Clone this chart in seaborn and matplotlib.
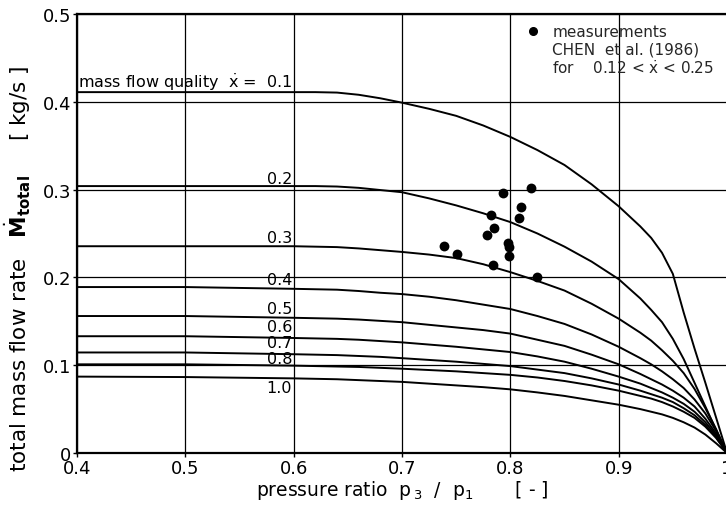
import matplotlib
matplotlib.use("Agg")
import matplotlib.pyplot as plt
import pandas as pd
import seaborn as sns

# pressure ratio p3/p1 at which each quality curve is tabulated
pressure_ratio = [0.40, 0.50, 0.60, 0.62, 0.64, 0.66, 0.68, 0.70, 0.725, 0.75,
                  0.775, 0.80, 0.825, 0.85, 0.875, 0.90, 0.92, 0.93, 0.94, 0.95,
                  0.96, 0.97, 0.98, 0.99, 1.00]

# total mass flow rate [kg/s] for each mass flow quality
flow_q01 = [0.411, 0.411, 0.411, 0.411, 0.4105, 0.408, 0.404, 0.399, 0.392, 0.384,
            0.373, 0.360, 0.345, 0.328, 0.306, 0.281, 0.258, 0.245, 0.228, 0.204,
            0.160, 0.119, 0.080, 0.040, 0.0]
flow_q02 = [0.304, 0.304, 0.304, 0.304, 0.3035, 0.302, 0.2995, 0.297, 0.290, 0.282,
            0.273, 0.263, 0.250, 0.235, 0.218, 0.198, 0.176, 0.163, 0.149, 0.130,
            0.107, 0.080, 0.053, 0.026, 0.0]
flow_q03 = [0.2355, 0.2355, 0.2355, 0.235, 0.2345, 0.233, 0.231, 0.229, 0.226, 0.222,
            0.215, 0.206, 0.196, 0.185, 0.170, 0.153, 0.137, 0.128, 0.117, 0.105,
            0.091, 0.073, 0.051, 0.027, 0.0]
flow_q04 = [0.189, 0.189, 0.187, 0.1865, 0.186, 0.1845, 0.1825, 0.181, 0.178, 0.174,
            0.169, 0.164, 0.156, 0.147, 0.135, 0.121, 0.108, 0.101, 0.093, 0.084,
            0.074, 0.061, 0.045, 0.025, 0.0]
flow_q05 = [0.156, 0.156, 0.154, 0.1535, 0.153, 0.152, 0.1505, 0.149, 0.146, 0.143,
            0.140, 0.136, 0.129, 0.122, 0.112, 0.101, 0.090, 0.084, 0.078, 0.071,
            0.063, 0.053, 0.039, 0.022, 0.0]
flow_q06 = [0.133, 0.133, 0.131, 0.1305, 0.130, 0.129, 0.1275, 0.126, 0.1235, 0.121,
            0.118, 0.115, 0.110, 0.104, 0.096, 0.087, 0.079, 0.074, 0.069, 0.063,
            0.056, 0.047, 0.035, 0.020, 0.0]
flow_q07 = [0.1145, 0.1145, 0.1125, 0.112, 0.1115, 0.1105, 0.1095, 0.108, 0.106, 0.104,
            0.1015, 0.099, 0.095, 0.091, 0.085, 0.078, 0.071, 0.067, 0.063, 0.058,
            0.051, 0.043, 0.032, 0.018, 0.0]
flow_q08 = [0.101, 0.101, 0.0995, 0.099, 0.0985, 0.098, 0.097, 0.096, 0.0945, 0.093,
            0.091, 0.089, 0.086, 0.082, 0.077, 0.071, 0.065, 0.062, 0.058, 0.053,
            0.047, 0.040, 0.030, 0.017, 0.0]
flow_q10 = [0.087, 0.0865, 0.085, 0.0845, 0.084, 0.083, 0.082, 0.081, 0.079, 0.077,
            0.075, 0.0725, 0.069, 0.065, 0.060, 0.055, 0.050, 0.047, 0.044, 0.040,
            0.035, 0.029, 0.021, 0.011, 0.0]

qualities = ["0.1", "0.2", "0.3", "0.4", "0.5", "0.6", "0.7", "0.8", "1.0"]
curves = [flow_q01, flow_q02, flow_q03, flow_q04, flow_q05,
          flow_q06, flow_q07, flow_q08, flow_q10]

# measurements, CHEN et al. (1986)
meas_ratio = [0.7385, 0.7509, 0.7782, 0.7822, 0.7843, 0.7846, 0.7935, 0.7975,
              0.7984, 0.7991, 0.8077, 0.8099, 0.8190, 0.8242]
meas_flow = [0.2355, 0.2272, 0.2481, 0.2705, 0.2138, 0.2557, 0.2965, 0.2394,
             0.2241, 0.2348, 0.2671, 0.2805, 0.3020, 0.2001]

x_ticks = [0.4, 0.5, 0.6, 0.7, 0.8, 0.9, 1.0]
x_ticklabels = ["0.4", "0.5", "0.6", "0.7", "0.8", "0.9", "1"]
y_ticks = [0.0, 0.1, 0.2, 0.3, 0.4, 0.5]
y_ticklabels = ["0", "0.1", "0.2", "0.3", "0.4", "0.5"]

rows = []
for q, vals in zip(qualities, curves):
    for p, m in zip(pressure_ratio, vals):
        rows.append({"ratio": p, "flow": m, "quality": q})
df = pd.DataFrame(rows)
meas = pd.DataFrame({"ratio": meas_ratio, "flow": meas_flow})

sns.set_theme(style="white")
plt.rcParams["font.family"] = ["DejaVu Sans"]
plt.rcParams["mathtext.fontset"] = "dejavusans"

fig = plt.figure(figsize=(7.26, 5.10), dpi=100)
ax = fig.add_axes([0.1061, 0.1098, 0.8953, 0.8608])

sns.lineplot(data=df, x="ratio", y="flow", hue="quality", units="quality",
             estimator=None, palette=["black"] * len(qualities), linewidth=1.4,
             legend=False, ax=ax, sort=True)
sns.scatterplot(data=meas, x="ratio", y="flow", color="black", s=50,
                edgecolor="black", linewidth=0, legend=False, ax=ax, zorder=5)

ax.set_xlim(0.4, 1.0)
ax.set_ylim(0.0, 0.5)
ax.set_xticks(x_ticks)
ax.set_xticklabels(x_ticklabels)
ax.set_yticks(y_ticks)
ax.set_yticklabels(y_ticklabels)
ax.grid(True, color="black", linewidth=0.9)
ax.set_axisbelow(True)
for side in ["left", "bottom", "top"]:
    ax.spines[side].set_color("black")
    ax.spines[side].set_linewidth(1.6)
ax.spines["right"].set_visible(False)
ax.tick_params(axis="both", which="major", direction="out", length=3,
               width=1.0, color="black", labelsize=13, pad=1, labelcolor="black")
ax.tick_params(axis="x", bottom=True)
ax.tick_params(axis="y", left=True)

ax.set_xlabel(r"pressure ratio  $\mathrm{p}_{\,3}$  /  $\mathrm{p}_{1}$       [ - ]",
              fontsize=13.5, color="black", labelpad=1)
ax.set_ylabel(r"total mass flow rate   $\dot{\mathbf{M}}_{\mathbf{total}}$     [ kg/s ]",
              fontsize=15.5, color="black")
ax.yaxis.set_label_coords(-0.068, 0.421)

# curve labels, right-aligned just left of the 0.6 gridline
label_x = 0.5985
label_y = [0.4237, 0.313, 0.2455, 0.198, 0.165, 0.144, 0.1253, 0.108, 0.0746]
for q, ly in zip(qualities, label_y):
    txt = q
    if q == "0.1":
        txt = r"mass flow quality  $\dot{\mathrm{x}}$ =  0.1"
    ax.text(label_x, ly, txt, ha="right", va="center", fontsize=11.5, color="black")

# measurement key in the upper right corner
ax.plot([0.821], [0.4806], marker="o", color="black", markersize=5.5)
ax.text(0.8386, 0.4806, "measurements", ha="left", va="center", fontsize=11)
ax.text(0.8386, 0.4601, "CHEN  et al. (1986)", ha="left", va="center", fontsize=11)
ax.text(0.8386, 0.4396, r"for    0.12 < $\dot{\mathrm{x}}$ < 0.25", ha="left",
        va="center", fontsize=11)

fig.savefig("out.png", dpi=100)
